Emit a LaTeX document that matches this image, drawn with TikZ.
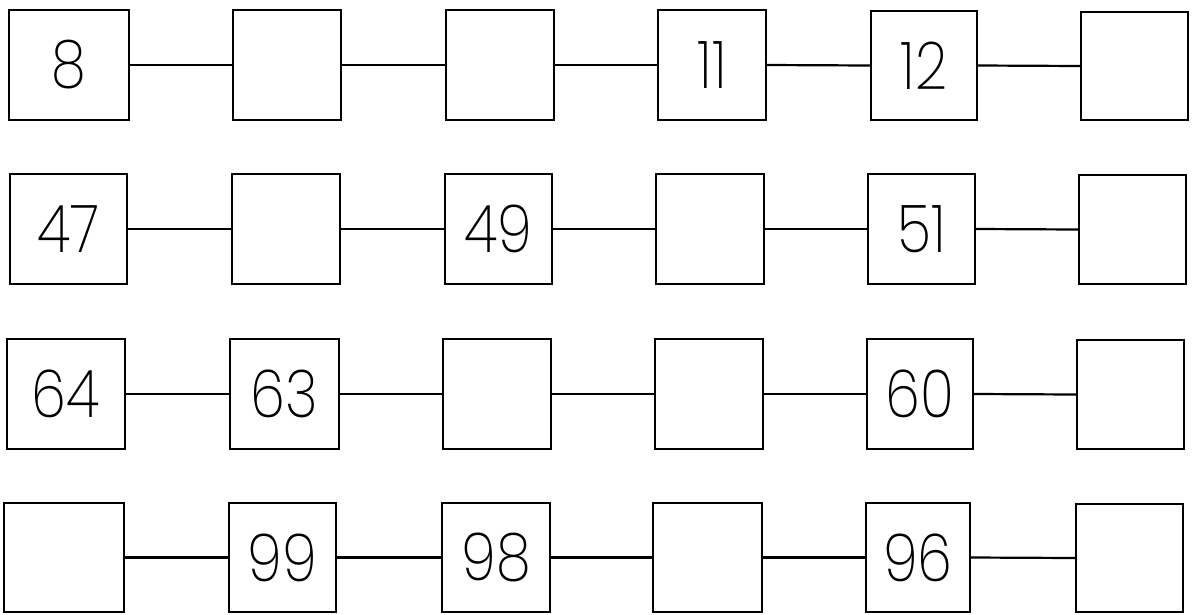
\documentclass[tikz,border=0pt]{standalone}
\usepackage{fontspec}
\setmainfont{Poppins ExtraLight}[FakeStretch=0.85]
\newcommand\bx[6]{\node[box, minimum width={(#3-#2)*1pt}, minimum height={(#5-#4)*1pt}] (#1) at ({(#2+#3)/2},{(#4+#5)/2}) {#6};}
\begin{document}
\begin{tikzpicture}[x=1pt,y=-1pt,
  box/.style={draw=black, line width=2.3pt, inner sep=0pt, font=\fontsize{66}{66}\selectfont},
  lnk/.style={draw=black, line width=2.2pt}]
\useasboundingbox (0,0) rectangle (1192,614);
% row 1
\bx{a1}{9}{129}{10}{120}{8}
\bx{a2}{233}{341}{10}{120}{}
\bx{a3}{446}{554}{10}{120}{}
\bx{a4}{658}{766}{10}{120}{11}
\bx{a5}{871}{977}{11}{120}{12}
\bx{a6}{1081}{1188}{12}{120}{}
% row 2
\bx{b1}{10}{127}{174}{284}{47}
\bx{b2}{232}{340}{174}{284}{}
\bx{b3}{445}{552}{174}{284}{49}
\bx{b4}{656}{764}{174}{284}{}
\bx{b5}{868}{975}{174}{284}{51}
\bx{b6}{1079}{1186}{175}{284}{}
% row 3
\bx{c1}{7}{125}{339}{449}{64}
\bx{c2}{230}{339}{339}{449}{63}
\bx{c3}{443}{551}{339}{449}{}
\bx{c4}{655}{763}{339}{449}{}
\bx{c5}{867}{973}{339}{449}{60}
\bx{c6}{1077}{1184}{340}{449}{}
% row 4
\bx{d1}{4}{124}{503}{612}{}
\bx{d2}{229}{336}{503}{612}{99}
\bx{d3}{442}{550}{503}{612}{98}
\bx{d4}{653}{762}{503}{612}{}
\bx{d5}{866}{970}{503}{612}{96}
\bx{d6}{1076}{1183}{504}{612}{}
\foreach \r in {a,b,c,d}{
  \foreach \i [evaluate=\i as \j using int(\i+1)] in {1,...,5}{
    \draw[lnk] (\r\i.east) -- (\r\j.west);
  }
}
\end{tikzpicture}
\end{document}
